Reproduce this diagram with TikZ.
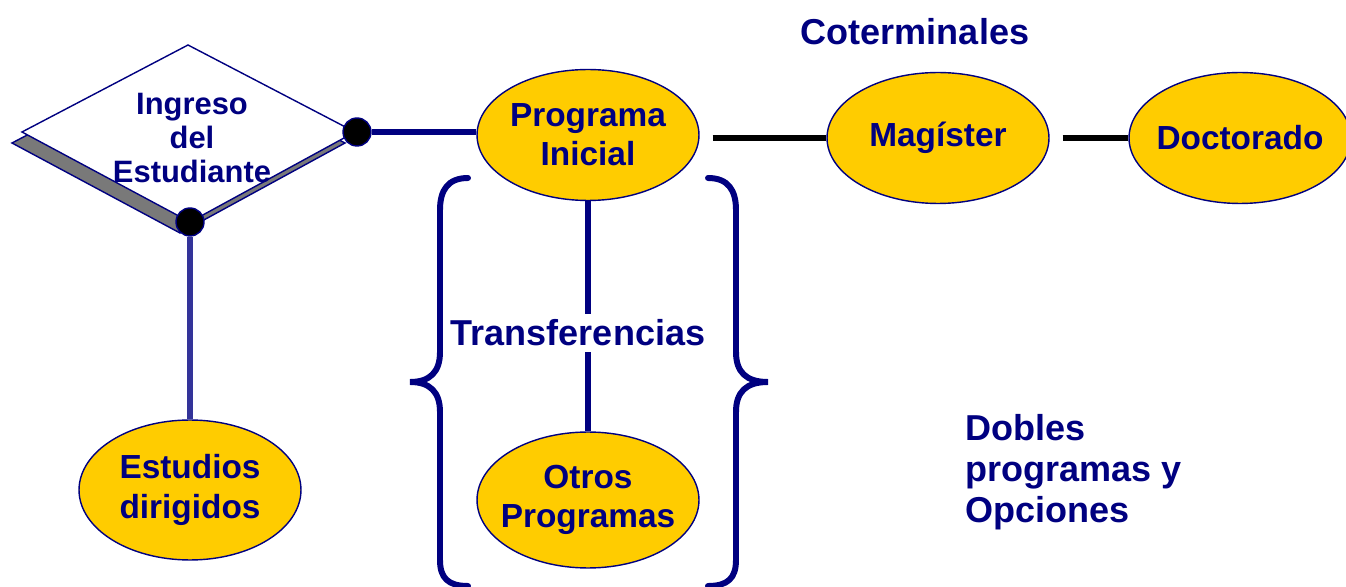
\documentclass[tikz,border=0pt]{standalone}
\usepackage{fontspec}
\setmainfont{Liberation Sans}
\usepackage{tikz}
\usetikzlibrary{shapes.geometric,positioning,calc}
\definecolor{azul}{HTML}{000080}
\definecolor{oro}{HTML}{FFCC00}
\definecolor{azulmedio}{HTML}{333399}

\begin{document}
\begin{tikzpicture}[x=0.02cm,y=-0.02cm,
  txt/.style={text=azul,font=\fontsize{20.5}{22}\selectfont\bfseries,align=center},
  prog/.style={ellipse,draw=azul,line width=0.8pt,fill=oro,inner xsep=-0.8cm,inner ysep=0pt,
    minimum width=4.44cm,minimum height=2.62cm,txt,font=\fontsize{19}{22.3}\selectfont\bfseries},
  dot/.style={circle,fill=black,draw=azul,line width=0.8pt,inner sep=0pt,minimum size=0.56cm},
  navyline/.style={draw=azul,line width=3.4pt},
  blackline/.style={draw=black,line width=3.4pt},
  brace/.style={draw=azul,line width=3.4pt,line cap=round}]
\useasboundingbox (0,0) rectangle (1346,587);

% rombo de ingreso
\fill[gray!95!black,draw=azul,line width=0.8pt] (12,143) -- (178,56) -- (345,143) -- (180,233) -- cycle;
\fill[white,draw=azul,line width=0.8pt] (22,132) -- (188,45) -- (355,132) -- (190,222) -- cycle;
\node[txt,font=\fontsize{17.6}{19.5}\selectfont\bfseries] (ingreso) at (192,138) {Ingreso\\del\\Estudiante};
\node[dot] (d1) at (357,132) {};
\node[dot] (d2) at (190,222) {};

\node[prog] (inicial) at (588,135) {Programa\\Inicial};
\node[prog] (magister) at (938,138) {Mag\'{\i}ster};
\node[prog] (doctorado) at (1240,138) {Doctorado};
\node[prog,minimum height=2.72cm] (otros) at (588,500) {Otros\\Programas};
\node[prog,minimum height=2.8cm] (estudios) at (190,490) {Estudios\\dirigidos};

\node[txt] (coterm) at (915,32) {Coterminales};
\node[txt] (trans) at (578,333) {Transferencias};
\node[txt,align=left,anchor=north west,font=\fontsize{20.5}{23.5}\selectfont\bfseries] (dobles) at (959,408) {Dobles\\programas y\\Opciones};

\draw[navyline] (d1) -- (d1 -| inicial.west);
\draw[navyline,draw=azulmedio] (d2) -- (estudios);
\draw[navyline] (inicial) -- (inicial |- trans.north);
\draw[navyline] (inicial |- trans.south) -- (otros);
\draw[blackline,shorten <=0.26cm] (inicial.east |- magister) -- (magister.west);
\draw[blackline,shorten <=0.26cm] (magister.east) -- (doctorado.west);

% llaves
\draw[brace] (468,178) .. controls (448,178) and (440,190) .. (440,210) -- (440,352)
  .. controls (440,372) and (430,382) .. (410,382)
  .. controls (430,382) and (440,392) .. (440,412) -- (440,560)
  .. controls (440,578) and (448,586) .. (468,586);
\draw[brace] (708,178) .. controls (728,178) and (736,190) .. (736,210) -- (736,352)
  .. controls (736,372) and (746,382) .. (768,382)
  .. controls (746,382) and (736,392) .. (736,412) -- (736,560)
  .. controls (736,578) and (728,586) .. (708,586);
\end{tikzpicture}
\end{document}
